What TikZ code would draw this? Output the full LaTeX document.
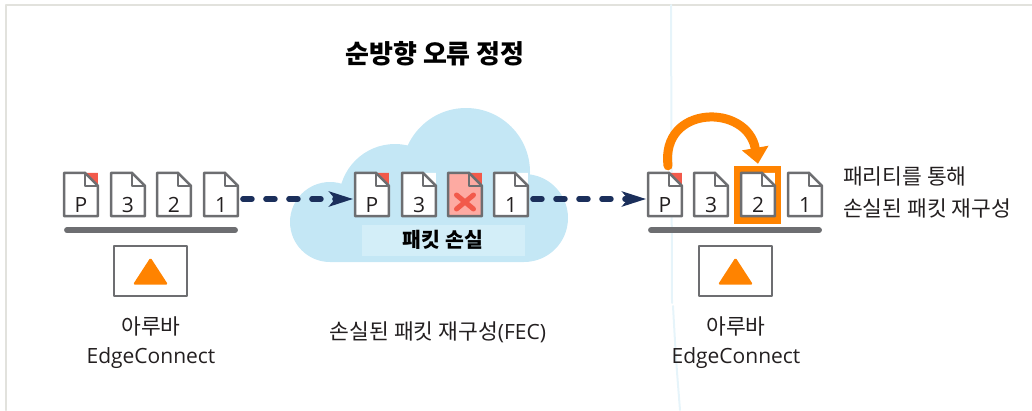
\documentclass[tikz,border=0pt]{standalone}
\usepackage{fontspec}
\setmainfont{Open Sans}
\newfontfamily\kr{Noto Sans CJK KR}
\usetikzlibrary{arrows.meta}
\definecolor{edgegray}{HTML}{6D6E71}
\definecolor{textdark}{HTML}{231F20}
\definecolor{navy}{HTML}{1B2F5B}
\definecolor{arubaorange}{HTML}{FF8300}
\definecolor{lossred}{HTML}{F25A4B}
\definecolor{losspink}{HTML}{FDAAA2}
\definecolor{cloudblue}{HTML}{C4E7F5}
\definecolor{labelblue}{HTML}{D3EEF8}
\definecolor{framegray}{HTML}{E2E2DD}
\definecolor{faintblue}{HTML}{E6F4FA}

% packet: name, centre, label, fill, corner
\newcommand{\pkt}[5]{%
  \node[pktnode] (#1) at (#2) {};
  \fill[#5] ([xshift=-13pt]#1.north east) -- (#1.north east) -- ([yshift=-13pt]#1.north east) -- cycle;
  \filldraw[pktline,fill=#4] (#1.north west) -- ([xshift=-13pt]#1.north east) -- ([yshift=-13pt]#1.north east) -- (#1.south east) -- (#1.south west) -- cycle;
  \draw[pktline] ([xshift=-13pt]#1.north east) -- ([shift={(-13pt,-13pt)}]#1.north east) -- ([yshift=-13pt]#1.north east);
  \node[pktlabel] at ([yshift=-10pt]#1.center) {#3};
}

\begin{document}
\begin{tikzpicture}[line cap=round,line join=round,x=1pt,y=-1pt,
  pktnode/.style={rectangle,minimum width=33.5pt,minimum height=43pt,inner sep=0pt},
  pktline/.style={draw=edgegray,line width=2.5pt},
  pktlabel/.style={text=textdark,font=\fontsize{21}{21}\selectfont,inner sep=0pt},
  bar/.style={edgegray,line width=6pt},
  devbox/.style={draw=edgegray,line width=2.5pt,fill=white,minimum width=73pt,minimum height=50pt,inner sep=0pt},
  devtri/.style={fill=arubaorange,rounded corners=1.5pt},
  bodytext/.style={text=textdark,font=\fontsize{21}{24}\selectfont,inner sep=0pt},
  krtext/.style={bodytext,font=\kr\fontsize{21.5}{24}\selectfont},
  dasharrow/.style={navy,line width=5.5pt,dash pattern=on 9pt off 14pt,-{Stealth[length=24pt,width=15pt,inset=6pt]}},
  fecarc/.style={arubaorange,line width=9pt,-{Triangle[length=16pt,width=26pt]}},
  lossx/.style={lossred,line width=5pt}]
\useasboundingbox (0,0) rectangle (1032,410);

% frame
\draw[framegray,line width=2pt] (6,410) -- (6,5) -- (1032,5);
\draw[faintblue,line width=2pt] (671,5) -- (672,303);
\draw[faintblue,line width=2pt] (673,306) .. controls (676,360) .. (680,410);

% title
\node[text=black,font=\kr\bfseries\fontsize{26}{28}\selectfont,inner sep=0pt,anchor=base] (title) at (435,63) {순방향 오류 정정};

% cloud
\fill[cloudblue] (330,222) circle (40pt) (395,200) circle (56pt) (466,172) circle (64pt) (524,218) circle (44pt) (330,210) rectangle (524,262);
\node[fill=labelblue,minimum width=163pt,minimum height=31pt,inner sep=0pt,font=\kr\bfseries\fontsize{20.5}{22}\selectfont] (loss) at (443,240) {패킷 손실};

% sender
\pkt{lP}{81,194.5}{P}{white}{lossred}
\pkt{l3}{128,194.5}{3}{white}{white}
\pkt{l2}{174,194.5}{2}{white}{white}
\pkt{l1}{221,194.5}{1}{white}{white}
\draw[bar] ([xshift=3pt,yshift=-14pt]lP.south west) -- ([xshift=-3pt,yshift=-14pt]l1.south east);
\node[devbox] (ldev) at (150.5,271) {};
\fill[devtri] ([shift={(-17.5pt,-13.5pt)}]ldev.center) -- ([shift={(17.5pt,-13.5pt)}]ldev.center) -- ([yshift=13.5pt]ldev.center) -- cycle;
\node[krtext,anchor=base] (lname) at (151,334) {아루바};
\node[bodytext,anchor=base] (lprod) at (151,363) {EdgeConnect};

% in the cloud
\pkt{cP}{372,194.5}{P}{white}{lossred}
\pkt{c3}{419,194.5}{3}{white}{white}
\pkt{cx}{465,194.5}{}{losspink}{lossred}
\pkt{c1}{511,194.5}{1}{white}{white}
\coordinate (xmid) at ([yshift=-7.5pt]cx.center);
\draw[lossx] ([shift={(-8.5pt,7pt)}]xmid) -- ([shift={(8.5pt,-7pt)}]xmid) ([shift={(-8.5pt,-7pt)}]xmid) -- ([shift={(8.5pt,7pt)}]xmid);

% receiver
\fill[arubaorange] (734,166) rectangle (781,224);
\pkt{rP}{665,194.5}{P}{white}{lossred}
\pkt{r3}{711,194.5}{3}{white}{white}
\pkt{r2}{758,194.5}{2}{white}{white}
\pkt{r1}{805,194.5}{1}{white}{white}
\draw[bar] ([xshift=3pt,yshift=-14pt]rP.south west) -- ([xshift=-3pt,yshift=-14pt]r1.south east);
\node[devbox] (rdev) at (735.5,271) {};
\fill[devtri] ([shift={(-17.5pt,-13.5pt)}]rdev.center) -- ([shift={(17.5pt,-13.5pt)}]rdev.center) -- ([yshift=13.5pt]rdev.center) -- cycle;
\node[krtext,anchor=base] (rname) at (736,334) {아루바};
\node[bodytext,anchor=base] (rprod) at (736,363) {EdgeConnect};

% arrows
\draw[dasharrow] ([shift={(5pt,-4.5pt)}]l1.east) -- ([shift={(-2pt,-4.5pt)}]cP.west);
\draw[dasharrow] ([shift={(5pt,-4.5pt)}]c1.east) -- ([shift={(-2pt,-4.5pt)}]rP.west);
\draw[fecarc] ([shift={(3pt,7pt)}]rP.north) to[out=97,in=100,looseness=1.75] ([yshift=9pt]r2.north);

% notes
\node[krtext,anchor=base west] (note1) at (843,184) {패리티를 통해};
\node[krtext,anchor=base west] (note2) at (843,216) {손실된 패킷 재구성};
\node[bodytext,anchor=base] (fec) at (438,339) {{\kr\fontsize{21.5}{24}\selectfont 손실된 패킷 재구성}(FEC)};
\end{tikzpicture}
\end{document}
